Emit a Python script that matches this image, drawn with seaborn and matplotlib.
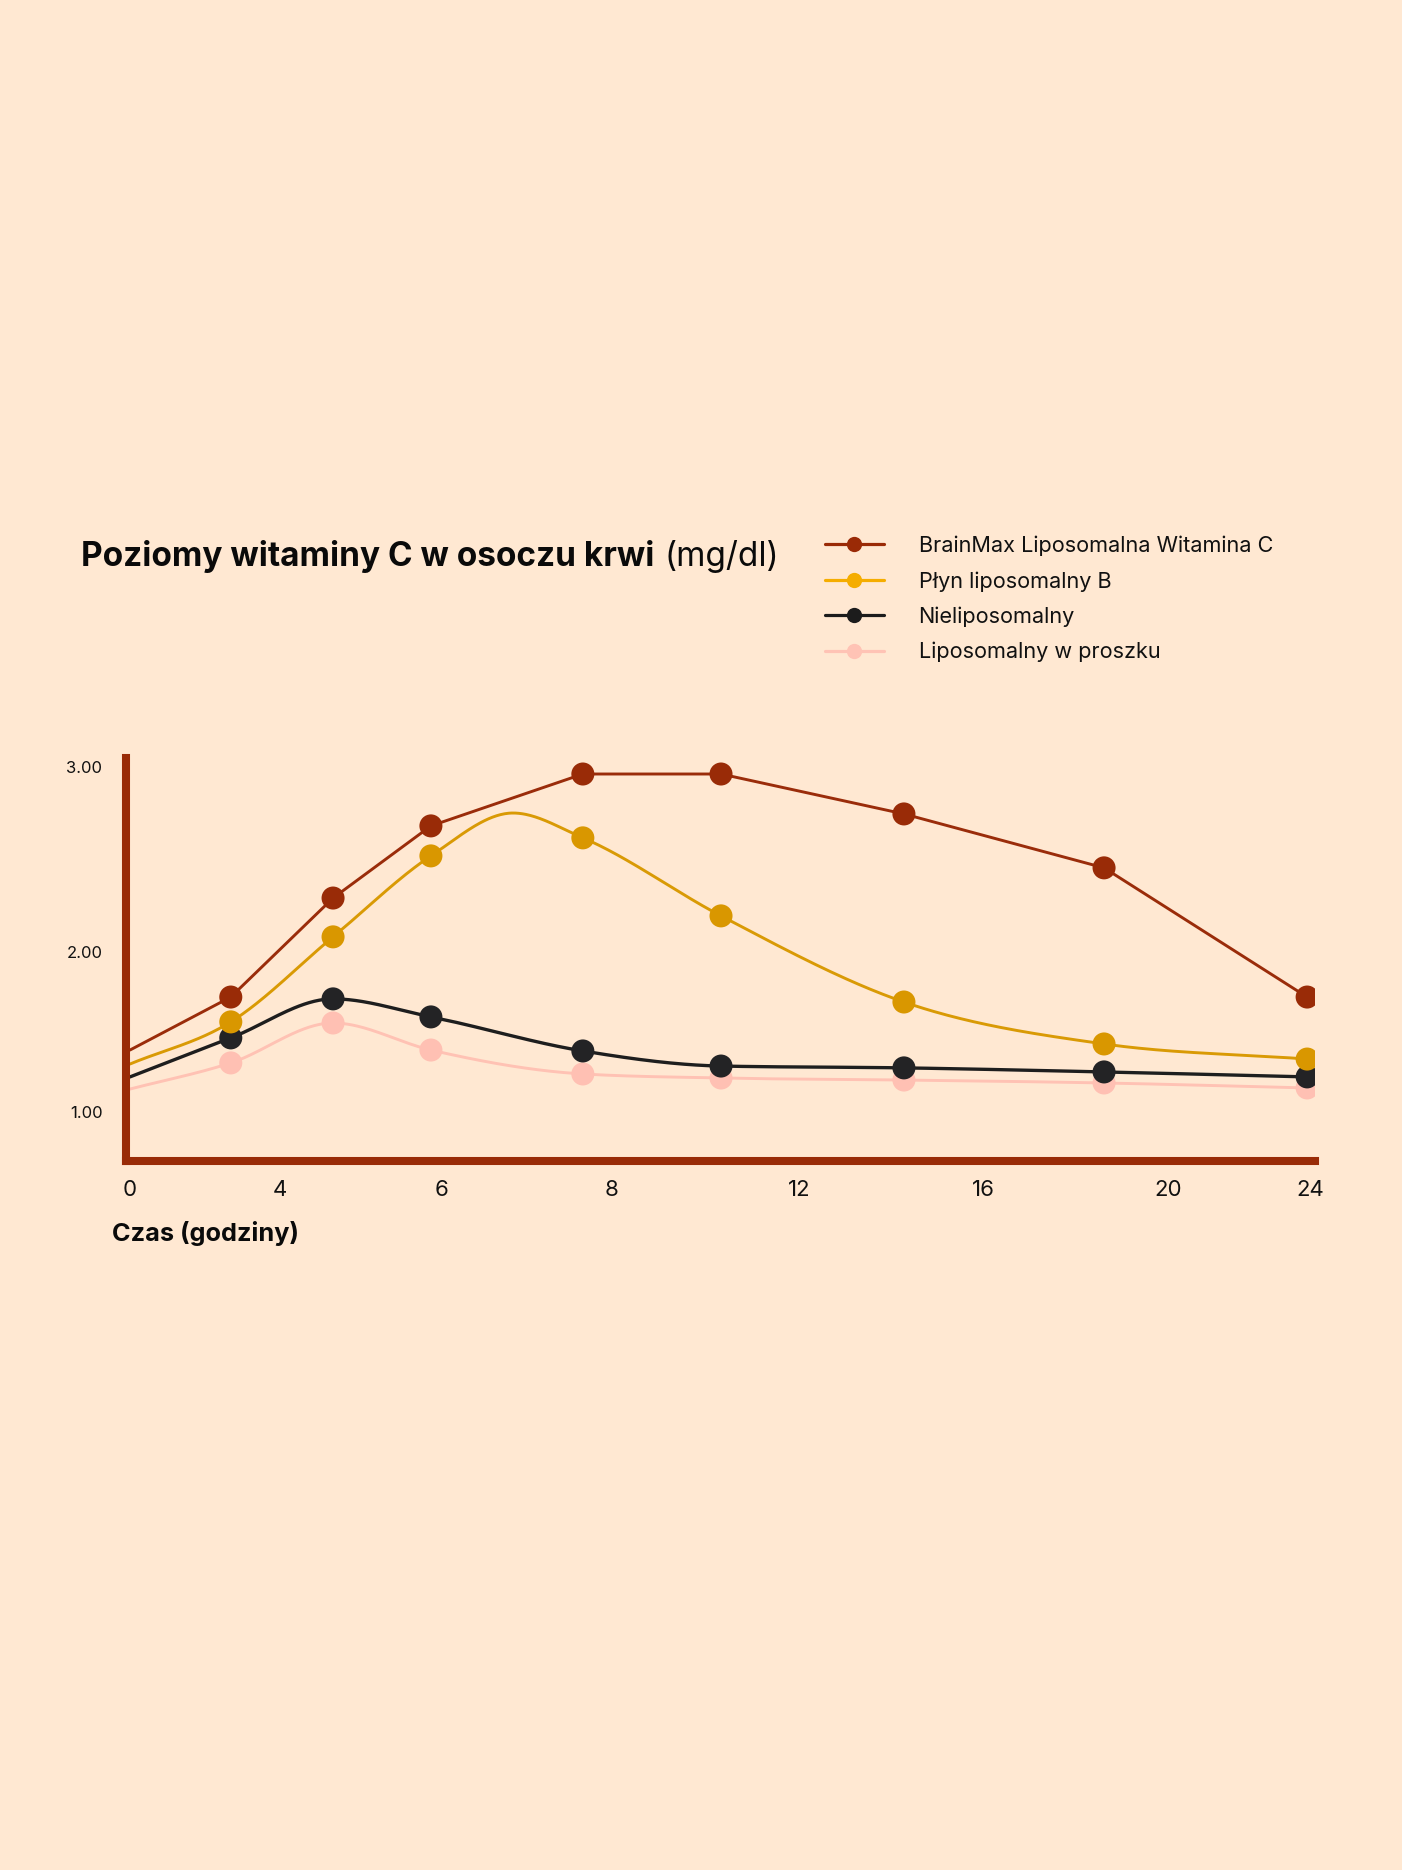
import matplotlib
matplotlib.use("Agg")
import matplotlib.pyplot as plt
import numpy as np
import pandas as pd
import seaborn as sns
from matplotlib.lines import Line2D

# ---- data ----
hours = [0, 2.05, 4.13, 6.12, 9.21, 12.02, 15.74, 19.81, 23.94]
brainmax = [1.467, 1.755, 2.293, 2.685, 2.967, 2.967, 2.750, 2.457, 1.755]
plyn = [1.391, 1.620, 2.082, 2.522, 2.620, 2.196, 1.728, 1.500, 1.418]
nieliposomalny = [1.321, 1.533, 1.745, 1.647, 1.462, 1.380, 1.370, 1.348, 1.321]
proszek = [1.255, 1.397, 1.614, 1.467, 1.337, 1.315, 1.304, 1.288, 1.261]
# the liquid curve peaks between the 6 h and 9 h points (no marker there)
plyn_peak_hour = 7.79
plyn_peak_value = 2.755

series_names = ["BrainMax Liposomalna Witamina C", "Płyn liposomalny B",
                "Nieliposomalny", "Liposomalny w proszku"]

x_tick_pos = [0, 3.05, 6.33, 9.80, 13.61, 17.35, 21.11, 24.0]
x_tick_labels = ["0", "4", "6", "8", "12", "16", "20", "24"]
y_tick_pos = [1.13, 2.0, 3.005]
y_tick_labels = ["1.00", "2.00", "3.00"]

BG = "#FFE8D2"
DARK_RED = "#992B07"
line_colors = {series_names[0]: "#9A2C0A", series_names[1]: "#D99A05",
               series_names[2]: "#1E1E1E", series_names[3]: "#FFC2B4"}
dot_colors = {series_names[0]: "#992B07", series_names[1]: "#D99700",
              series_names[2]: "#232325", series_names[3]: "#FFC0B3"}
legend_colors = {series_names[0]: "#9A2A06", series_names[1]: "#F5AD00",
                 series_names[2]: "#1C1C1C", series_names[3]: "#FFC3B5"}


def monotone_curve(x, y, n=60):
    """Monotone cubic (like d3.curveMonotoneX) through the knots."""
    x = np.asarray(x, float)
    y = np.asarray(y, float)
    h = np.diff(x)
    s = np.diff(y) / h
    m = np.zeros_like(x)
    m[0], m[-1] = s[0], s[-1]
    for i in range(1, len(x) - 1):
        if s[i - 1] * s[i] <= 0:
            m[i] = 0
        else:
            p = (s[i - 1] * h[i] + s[i] * h[i - 1]) / (h[i - 1] + h[i])
            m[i] = np.sign(s[i]) * min(abs(s[i - 1]), abs(s[i]), 0.5 * abs(p)) * 2
    xs, ys = [], []
    for i in range(len(x) - 1):
        t = np.linspace(0, 1, n, endpoint=(i == len(x) - 2))
        h00 = 2 * t**3 - 3 * t**2 + 1
        h10 = t**3 - 2 * t**2 + t
        h01 = -2 * t**3 + 3 * t**2
        h11 = t**3 - t**2
        xs.append(x[i] + t * h[i])
        ys.append(h00 * y[i] + h10 * h[i] * m[i] + h01 * y[i + 1] + h11 * h[i] * m[i + 1])
    return np.concatenate(xs), np.concatenate(ys)


plyn_knots_x = hours[:4] + [plyn_peak_hour] + hours[4:]
plyn_knots_y = plyn[:4] + [plyn_peak_value] + plyn[4:]

curves = {
    series_names[0]: (np.array(hours), np.array(brainmax)),
    series_names[1]: monotone_curve(plyn_knots_x, plyn_knots_y),
    series_names[2]: monotone_curve(hours, nieliposomalny),
    series_names[3]: monotone_curve(hours, proszek),
}
points = {series_names[0]: brainmax, series_names[1]: plyn,
          series_names[2]: nieliposomalny, series_names[3]: proszek}
widths = {series_names[0]: 2.1, series_names[1]: 2.1,
          series_names[2]: 2.4, series_names[3]: 2.1}

sns.set_theme(style="white")
plt.rcParams["font.family"] = ["Inter", "DejaVu Sans"]

W, H = 1402, 1870
fig = plt.figure(figsize=(W / 100, H / 100), dpi=100, facecolor=BG)
ax = fig.add_axes([126 / W, 1 - 1161 / H, (1315 - 126) / W, (1161 - 758) / H])
ax.set_facecolor(BG)

# draw from back to front: pink, yellow, black, red
for z, name in enumerate(reversed(series_names)):
    cx, cy = curves[name]
    sns.lineplot(x=cx, y=cy, ax=ax, color=line_colors[name], lw=widths[name],
                 sort=False, estimator=None, zorder=2 + z)
    sns.scatterplot(x=hours[1:], y=points[name][1:], ax=ax, color=dot_colors[name],
                    s=275, edgecolor="none", linewidth=0, zorder=2.5 + z)

ax.set_xlim(-0.081, 24.10)
ax.set_ylim(0.864, 3.054)
ax.set_xticks(x_tick_pos, x_tick_labels)
ax.set_yticks(y_tick_pos, y_tick_labels)
ax.tick_params(axis="x", length=0, pad=14, labelsize=16, colors="#111111")
ax.tick_params(axis="y", length=0, pad=17, labelsize=12, colors="#111111")
ax.set_xlabel("")
ax.set_ylabel("")

for side in ["top", "right"]:
    ax.spines[side].set_visible(False)
for side in ["left", "bottom"]:
    ax.spines[side].set_color(DARK_RED)
    ax.spines[side].set_linewidth(5.8)
    ax.spines[side].set_capstyle("projecting")
    ax.spines[side].set_zorder(10)

# title: bold part then regular unit
t1 = fig.text(81 / W, 1 - 566 / H, "Poziomy witaminy C w osoczu krwi", fontsize=24,
              fontweight="bold", color="#0A0A0A", va="baseline", ha="left")
fig.canvas.draw()
bb = t1.get_window_extent()
fig.text((bb.x1 + 10) / W, 1 - 566 / H, "(mg/dl)", fontsize=24, color="#0A0A0A",
         va="baseline", ha="left")

fig.text(112 / W, 1 - 1233 / H, "Czas (godziny)", fontsize=18.2, fontweight="bold",
         color="#0A0A0A", va="center", ha="left")

handles = [Line2D([0], [0], color=legend_colors[n], lw=2.3, marker="o", markersize=11,
                  markeredgewidth=0, markerfacecolor=legend_colors[n]) for n in series_names]
leg = fig.legend(handles, series_names, loc="center left",
                 bbox_to_anchor=(825 / W, 1 - 599 / H), frameon=False, fontsize=15.6,
                 handlelength=2.72, handletextpad=1.6, labelspacing=0.69,
                 borderpad=0, borderaxespad=0)
for txt in leg.get_texts():
    txt.set_color("#111111")

fig.savefig("out.png", dpi=100, facecolor=BG)
